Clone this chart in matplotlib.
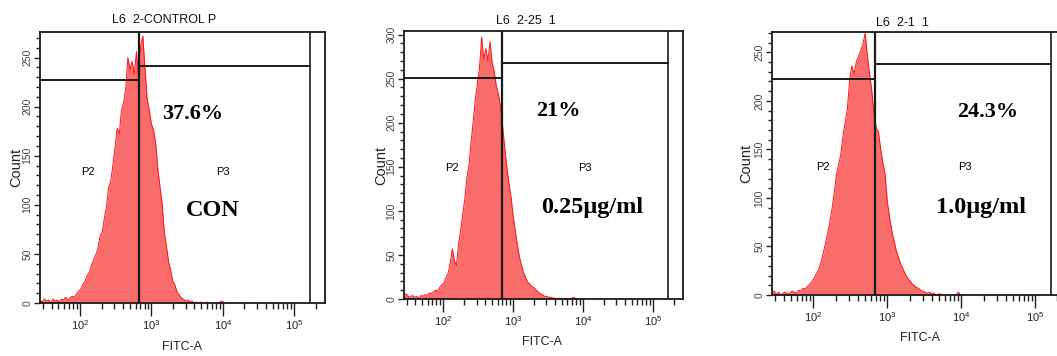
import numpy as np
import matplotlib
matplotlib.use("Agg")
import matplotlib.pyplot as plt
from matplotlib.ticker import FixedLocator, NullFormatter

plt.rcParams["font.family"] = ["Liberation Sans", "DejaVu Sans"]
plt.rcParams["mathtext.default"] = "regular"

# ---------------- data ----------------
# histogram bin centres (log10 of FITC-A intensity)
log_bins = np.round(np.arange(1.44, 4.03, 0.03), 2)

con_counts = [3, 1, 4, 2, 3, 0, 4, 2, 3, 1,
              4, 3, 6, 3, 5, 7, 6, 9, 12, 14,
              19, 22, 28, 31, 38, 44, 49, 55, 68, 72,
              86, 98, 117, 124, 140, 158, 178, 172, 196, 204,
              218, 250, 238, 246, 233, 256, 229, 262, 272, 238,
              208, 196, 182, 176, 162, 136, 118, 101, 72, 58,
              42, 33, 22, 18, 11, 8, 5, 4, 2, 3,
              1, 2, 0, 1, 0, 1, 0, 0, 1, 0,
              0, 0, 0, 0, 1, 2, 0]

dose025_counts = [4, 6, 3, 2, 4, 2, 3, 1, 4, 3,
                  5, 4, 7, 6, 8, 10, 9, 13, 16, 18,
                  24, 29, 40, 57, 44, 38, 62, 78, 96, 114,
                  138, 152, 178, 202, 226, 245, 262, 297, 272, 284,
                  270, 292, 268, 258, 242, 232, 218, 196, 172, 150,
                  132, 116, 94, 78, 62, 48, 38, 30, 24, 19,
                  17, 14, 13, 10, 8, 6, 5, 3, 3, 2,
                  2, 1, 1, 0, 1, 0, 0, 1, 0, 0,
                  1, 2, 0, 0, 0, 0, 0]

dose10_counts = [2, 4, 1, 3, 0, 2, 3, 1, 2, 4,
                 3, 2, 5, 4, 7, 6, 9, 11, 14, 17,
                 22, 26, 33, 42, 52, 63, 74, 88, 104, 124,
                 134, 145, 164, 178, 192, 222, 236, 228, 240, 246,
                 252, 258, 270, 246, 228, 210, 186, 172, 168, 150,
                 136, 124, 96, 80, 66, 56, 46, 39, 32, 27,
                 22, 18, 15, 12, 10, 8, 7, 5, 4, 3,
                 2, 3, 1, 2, 0, 1, 1, 0, 0, 0,
                 0, 0, 0, 0, 3, 0, 0]

series = [con_counts, dose025_counts, dose10_counts]
titles = ["L6  2-CONTROL P", "L6  2-25  1", "L6  2-1  1"]
percents = ["37.6%", "21%", "24.3%"]
conditions = ["CON", "0.25\u03bcg/ml", "1.0\u03bcg/ml"]
gate_log = [2.83, 2.84, 2.83]          # P2/P3 split (log10 FITC)
gate_end_log = [5.22, 5.22, 5.22]      # right edge of P3
p2_level = [227, 251, 223]             # P2 marker height (count)
p3_level = [241, 268, 238]             # P3 marker height (count)
y_top = [276, 304, 271]
x_log_range = (1.44, 5.43)
y_major = [0, 50, 100, 150, 200, 250, 300]

# ---------------- layout (pixels) ----------------
W, H = 1057, 356
rects = [(40, 32, 325, 303), (404, 31, 683, 299), (772, 32, 1067, 295)]
title_pos = [(164, 20), (526, 21), (902, 23)]
pct_pos = [(193, 114), (558, 111), (988, 112)]
cond_pos = [(213, 211), (592, 208), (981, 208)]
p2_pos = [(88, 172), (452, 168), (823, 167)]
p3_pos = [(223, 172), (585, 168), (965, 167)]
count_pos = [(16, 167), (381, 165), (746, 163)]
fitc_pos = [(182, 347), (542, 342), (920, 338)]


def fx(x, y):
    return x / W, 1 - y / H


fig = plt.figure(figsize=(W / 100, H / 100), dpi=100)

fill_col = "#F86C6C"
edge_col = "#FF1414"
line_col = "#1a1a1a"

x_vals = 10 ** log_bins

for i in range(3):
    l, t, r, b = rects[i]
    ax = fig.add_axes([l / W, 1 - b / H, (r - l) / W, (b - t) / H])
    ax.set_xscale("log")
    ax.set_xlim(10 ** x_log_range[0], 10 ** x_log_range[1])
    ax.set_ylim(0, y_top[i])

    counts = np.array(series[i])
    ax.fill_between(x_vals, counts, 0, color=fill_col, lw=0, zorder=1)
    ax.plot(x_vals, counts, color=edge_col, lw=0.7, zorder=2)

    g = 10 ** gate_log[i]
    ge = 10 ** gate_end_log[i]
    ax.axvline(g, color=line_col, lw=1.6, zorder=3)
    ax.axvline(ge, color=line_col, lw=1.2, zorder=3)
    ax.plot([10 ** x_log_range[0], g], [p2_level[i], p2_level[i]],
            color=line_col, lw=1.4, zorder=3)
    ax.plot([g, ge], [p3_level[i], p3_level[i]],
            color=line_col, lw=1.4, zorder=3)

    for s in ax.spines.values():
        s.set_linewidth(1.3)
        s.set_color(line_col)

    # x ticks
    ax.xaxis.set_major_locator(FixedLocator([1e2, 1e3, 1e4, 1e5]))
    minors = [m * 10 ** d for d in range(1, 6) for m in range(2, 10)]
    ax.xaxis.set_minor_locator(FixedLocator(minors))
    ax.xaxis.set_minor_formatter(NullFormatter())
    ax.set_xticklabels([r"$10^{2}$", r"$10^{3}$", r"$10^{4}$", r"$10^{5}$"])
    ax.tick_params(axis="x", which="major", direction="out", length=9,
                   width=1.0, labelsize=8, pad=2, colors="#222222")
    ax.tick_params(axis="x", which="minor", direction="out", length=4.5,
                   width=1.0, colors="#222222")

    # y ticks
    ym = [v for v in y_major if v <= y_top[i]]
    ax.yaxis.set_major_locator(FixedLocator(ym))
    ax.yaxis.set_minor_locator(FixedLocator(list(range(0, y_top[i] + 1, 10))))
    ax.yaxis.set_minor_formatter(NullFormatter())
    ax.set_yticklabels([str(v) for v in ym], rotation=90, va="center")
    ax.tick_params(axis="y", which="major", direction="out", length=4.5,
                   width=1.0, labelsize=7.5, pad=1, colors="#222222",
                   labelcolor="#444444")
    ax.tick_params(axis="y", which="minor", direction="out", length=3,
                   width=1.0, colors="#222222")

    fig.text(*fx(*title_pos[i]), titles[i], ha="center", va="center",
             fontsize=9, color="#111111")
    fig.text(*fx(*pct_pos[i]), percents[i], ha="center", va="center",
             fontsize=16, fontweight="bold", family="Liberation Serif")
    fig.text(*fx(*cond_pos[i]), conditions[i], ha="center", va="center",
             fontsize=17.5, fontweight="bold", family="Liberation Serif")
    fig.text(*fx(*p2_pos[i]), "P2", ha="center", va="center", fontsize=8)
    fig.text(*fx(*p3_pos[i]), "P3", ha="center", va="center", fontsize=8)
    fig.text(*fx(*count_pos[i]), "Count", ha="center", va="center",
             fontsize=10.5, rotation=90, color="#222222")
    fig.text(*fx(*fitc_pos[i]), "FITC-A", ha="center", va="center",
             fontsize=9, color="#222222")

fig.savefig("out.png", dpi=100)
